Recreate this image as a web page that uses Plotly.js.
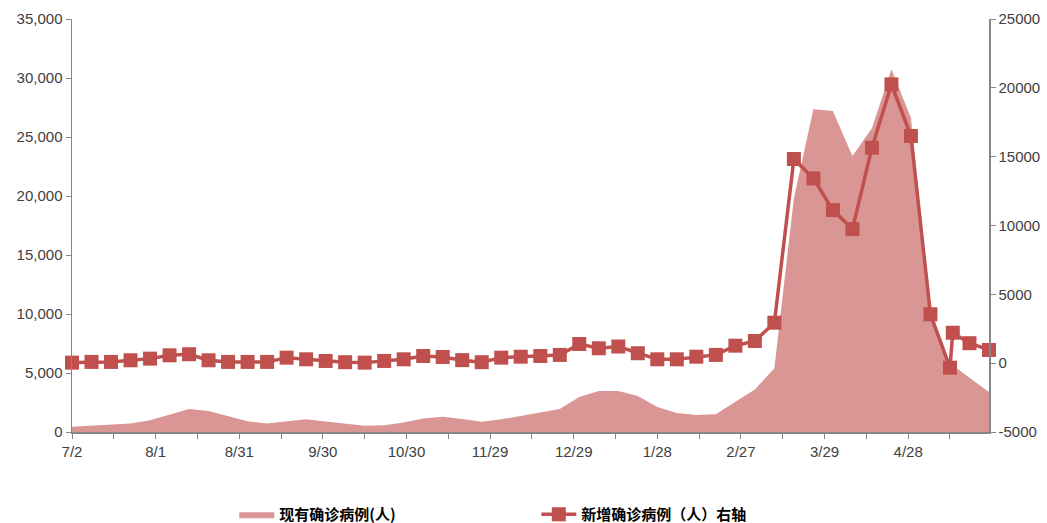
<!DOCTYPE html>
<html>
<head>
<meta charset="utf-8">
<script src="https://cdn.plot.ly/plotly-3.0.1.min.js"></script>
<style>
html,body{margin:0;padding:0;background:#fff;}
#chart{width:1047px;height:523px;}
</style>
</head>
<body>
<div id="chart"></div>
<script>
// ---- data ----
const areaDates = [
  "2021-07-02","2021-07-09","2021-07-16","2021-07-23","2021-07-30","2021-08-06","2021-08-13","2021-08-20","2021-08-27",
  "2021-09-03","2021-09-10","2021-09-17","2021-09-24","2021-10-01","2021-10-08","2021-10-15","2021-10-22","2021-10-29",
  "2021-11-05","2021-11-12","2021-11-19","2021-11-26","2021-12-03","2021-12-10","2021-12-17","2021-12-24","2021-12-31",
  "2022-01-07","2022-01-14","2022-01-21","2022-01-28","2022-02-04","2022-02-11","2022-02-18","2022-02-25","2022-03-04",
  "2022-03-11","2022-03-18","2022-03-25","2022-04-01","2022-04-08","2022-04-15","2022-04-22","2022-04-29","2022-05-06",
  "2022-05-13","2022-05-20","2022-05-27"
];
const activeCases = [
  450,520,600,720,1000,1450,1950,1780,1350,
  920,720,920,1090,900,700,540,570,810,
  1150,1290,1110,860,1070,1356,1680,1950,2960,
  3475,3475,3050,2120,1600,1440,1500,2570,3600,
  5400,19800,27350,27200,23400,25750,30750,26600,10000,
  5850,4600,3400
];
const lineDates = [
  "2021-07-02","2021-07-09","2021-07-16","2021-07-23","2021-07-30","2021-08-06","2021-08-13","2021-08-20","2021-08-27",
  "2021-09-03","2021-09-10","2021-09-17","2021-09-24","2021-10-01","2021-10-08","2021-10-15","2021-10-22","2021-10-29",
  "2021-11-05","2021-11-12","2021-11-19","2021-11-26","2021-12-03","2021-12-10","2021-12-17","2021-12-24","2021-12-31",
  "2022-01-07","2022-01-14","2022-01-21","2022-01-28","2022-02-04","2022-02-11","2022-02-18","2022-02-25","2022-03-04",
  "2022-03-11","2022-03-18","2022-03-25","2022-04-01","2022-04-08","2022-04-15","2022-04-22","2022-04-29","2022-05-06",
  "2022-05-13","2022-05-14","2022-05-20","2022-05-27"
];
const newCases = [
  40,90,90,210,330,570,650,210,90,
  90,90,400,280,160,70,40,160,280,
  520,450,220,70,400,470,520,600,1390,
  1080,1210,720,280,280,470,600,1270,1610,
  2940,14830,13420,11120,9740,15650,20250,16500,3550,
  -330,2210,1450,960
];
const leftTicks = [0,5000,10000,15000,20000,25000,30000,35000];
const rightTicks = [-5000,0,5000,10000,15000,20000,25000];
const seriesNames = ["现有确诊病例(人)", "新增确诊病例（人）右轴"];

// ---- chart ----
const areaColor = "rgb(217,150,148)";
const lineColor = "rgb(192,80,77)";
const axisColor = "#868686";
const textColor = "#404040";
const DAY = 86400000;

const traces = [
  {
    type: "scatter", mode: "lines", name: seriesNames[0],
    x: areaDates, y: activeCases, yaxis: "y",
    fill: "tozeroy", fillcolor: areaColor,
    line: {width: 0, color: areaColor},
    hoverinfo: "x+y"
  },
  {
    type: "scatter", mode: "lines+markers", name: seriesNames[1],
    x: lineDates, y: newCases, yaxis: "y2",
    line: {color: lineColor, width: 3.5},
    marker: {symbol: "square", size: 14, color: lineColor},
    cliponaxis: false
  }
];

const tickFont = {family: "Liberation Sans, Arial, sans-serif", size: 15, color: textColor};

const layout = {
  width: 1047, height: 523,
  margin: {l: 72, r: 58, t: 19, b: 91, autoexpand: false},
  paper_bgcolor: "#fff", plot_bgcolor: "#fff",
  showlegend: true,
  legend: {
    orientation: "h", x: 0.177, xanchor: "left", y: -0.2, yanchor: "middle",
    font: {family: "Noto Sans CJK SC, sans-serif", size: 15, color: "#000", weight: "bold"},
    entrywidth: 252, entrywidthmode: "pixels", itemwidth: 35,
    bgcolor: "rgba(0,0,0,0)"
  },
  xaxis: {
    type: "date",
    range: ["2021-07-02", "2022-05-27"],
    tick0: "2021-07-02", dtick: 30 * DAY, tickformat: "%-m/%-d",
    ticks: "outside", ticklen: 5, tickcolor: axisColor, tickwidth: 1,
    minor: {dtick: 15 * DAY, tick0: "2021-07-02", ticks: "outside", ticklen: 5, tickcolor: axisColor, showgrid: false},
    showline: true, linecolor: axisColor, linewidth: 1.5,
    showgrid: false, zeroline: false,
    automargin: false,
    tickfont: tickFont
  },
  yaxis: {
    range: [0, 35000],
    tickmode: "array", tickvals: leftTicks, ticktext: leftTicks.map(v => v.toLocaleString("en-US")),
    ticks: "outside", ticklen: 5, tickcolor: axisColor,
    showline: true, linecolor: axisColor, linewidth: 1.5,
    showgrid: false, zeroline: false,
    automargin: false,
    tickfont: tickFont
  },
  yaxis2: {
    overlaying: "y", side: "right",
    range: [-5000, 25000],
    tickmode: "array", tickvals: rightTicks, ticktext: rightTicks.map(v => String(v)),
    ticks: "outside", ticklen: 5, tickcolor: axisColor,
    showline: true, linecolor: axisColor, linewidth: 1.5,
    showgrid: false, zeroline: false,
    automargin: false,
    tickfont: tickFont
  }
};

Plotly.newPlot("chart", traces, layout, {displayModeBar: false, staticPlot: true});
</script>
</body>
</html>
